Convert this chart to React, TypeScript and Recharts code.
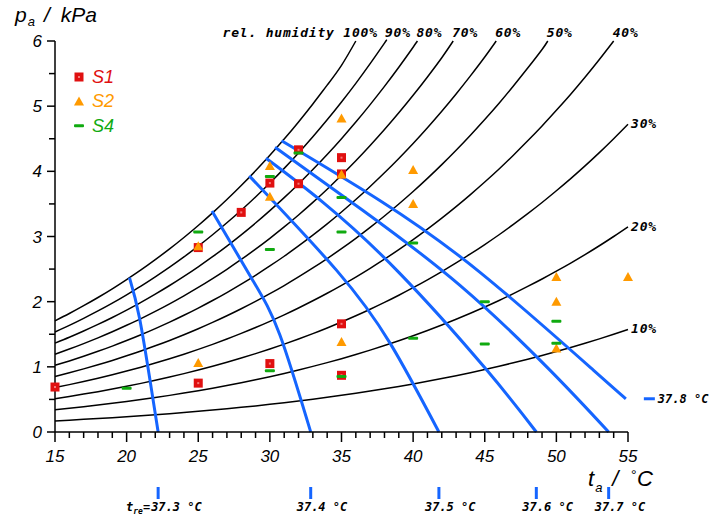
import React from 'react';
import { ComposedChart, Line, Scatter, XAxis, YAxis, Legend } from 'recharts';

const satT = [15, 16, 17, 18, 19, 20, 21, 22, 23, 24, 25, 26, 27, 28, 29, 30, 31, 32, 33, 34, 35,
  36, 37, 38, 39, 40, 41, 42, 43, 44, 45, 46, 47, 48, 49, 50, 51, 52, 53, 54, 55];
const satP = [1.705, 1.818, 1.938, 2.064, 2.197, 2.339, 2.487, 2.645, 2.81, 2.985, 3.169, 3.363, 3.567,
  3.782, 4.008, 4.246, 4.495, 4.758, 5.034, 5.323, 5.627, 5.945, 6.28, 6.63, 6.997, 7.381, 7.784, 8.205,
  8.646, 9.108, 9.59, 10.09, 10.62, 11.17, 11.74, 12.34, 12.96, 13.61, 14.29, 15.0, 15.74];

const rhLevels = [100, 90, 80, 70, 60, 50, 40, 30, 20, 10];
const rhEndT = [36.0, 38.1, 40.3, 42.8, 45.8, 49.4, 54.0, 55, 55, 55];

// rectal temperature isotherms
const isoTemps = ['37.3', '37.4', '37.5', '37.6', '37.7', '37.8'];
const isoT = [
  [20.2, 20.9, 21.7, 22.2],
  [25.96, 28.8, 30.7, 32.85],
  [28.56, 34.66, 38.4, 41.8],
  [29.73, 33.73, 39.0, 45.14, 48.6],
  [30.36, 36.5, 43.27, 49.55, 53.65],
  [30.82, 37.7, 44.67, 52.58, 54.85],
];
const isoP = [
  [2.37, 1.75, 0.7, 0],
  [3.39, 2.33, 1.49, 0],
  [3.93, 2.48, 1.36, 0],
  [4.2, 3.52, 2.45, 0.95, 0],
  [4.37, 3.4, 2.25, 0.95, 0],
  [4.47, 3.55, 2.45, 0.95, 0.51],
];

// measurements
const s1T = [15, 25, 25, 28, 30, 30, 32, 32, 35, 35, 35, 35];
const s1P = [0.69, 0.75, 2.83, 3.37, 1.05, 3.82, 3.81, 4.33, 0.87, 1.66, 3.96, 4.21];
const s2T = [25, 25, 30, 30, 35, 35, 35, 40, 40, 50, 50, 50, 55];
const s2P = [1.06, 2.85, 3.61, 4.08, 1.38, 3.95, 4.81, 3.5, 4.02, 1.28, 2.0, 2.38, 2.38];
const s4T = [20, 25, 30, 30, 30, 32, 35, 35, 35, 40, 40, 45, 45, 50, 50];
const s4P = [0.67, 3.07, 0.94, 2.8, 3.92, 4.28, 0.85, 3.07, 3.6, 1.44, 2.9, 1.35, 2.0, 1.36, 1.7];

const seriesNames = ['S1', 'S2', 'S4'];
const xLabelTicks = [15, 20, 25, 30, 35, 40, 45, 50, 55];
const yLabelTicks = [0, 1, 2, 3, 4, 5, 6];

const RED = '#e01010';
const ORANGE = '#ff9a00';
const GREEN = '#10aa10';
const BLUE = '#1565ff';
const SANS = '"Liberation Sans", Arial, sans-serif';
const MONO = '"DejaVu Sans Mono", monospace';

const rhCurves = rhLevels.map((rh, i) => {
  const pts = satT
    .map((t, k) => ({ t, p: (rh / 100) * satP[k] }))
    .filter((d) => d.t < rhEndT[i] && d.p <= 6);
  const endP = rhEndT[i] === 55 ? (rh / 100) * satP[satP.length - 1] : 6;
  pts.push({ t: rhEndT[i], p: endP });
  return pts;
});
const rhLabelPts = rhLevels.map((rh, i) => {
  const c = rhCurves[i];
  return { t: c[c.length - 1].t, p: c[c.length - 1].p, rh, top: rhEndT[i] < 55 };
});

const isoCurves = isoT.map((ts, i) => ts.map((t, k) => ({ t, p: isoP[i][k] })));
const treTickT = isoT.slice(0, 5).map((ts) => ts[ts.length - 1]);
const lastIso = isoCurves[isoCurves.length - 1];
const isoEndLabel = [{ ...lastIso[lastIso.length - 1], temp: isoTemps[isoTemps.length - 1] }];

const toPts = (ts: number[], ps: number[]) => ts.map((t, k) => ({ t, p: ps[k] }));
const s1 = toPts(s1T, s1P);
const s2 = toPts(s2T, s2P);
const s4 = toPts(s4T, s4P);

const minorX = Array.from({ length: 41 }, (_, i) => 15 + i);
const minorY = Array.from({ length: 13 }, (_, i) => i * 0.5);

const Square = ({ cx, cy }: any) => (
  <g>
    <rect x={cx - 4.5} y={cy - 4.5} width={9} height={9} fill={RED} />
    <rect x={cx - 1} y={cy - 1} width={2} height={2} fill="#f47a7a" />
  </g>
);
const Triangle = ({ cx, cy }: any) => (
  <path d={`M${cx - 5},${cy + 4} L${cx + 5},${cy + 4} L${cx},${cy - 5} Z`} fill={ORANGE} />
);
const Dash = ({ cx, cy }: any) => <rect x={cx - 5} y={cy - 1.5} width={10} height={3} rx={1} fill={GREEN} />;

const RhLabel = ({ cx, cy, payload }: any) => {
  const style = { fontFamily: MONO, fontSize: 13, fontStyle: 'italic', fontWeight: 700, letterSpacing: 0.8 } as any;
  if (!payload.top) {
    return <text x={cx + 3} y={cy + 4} style={style} fill="#000">{`${payload.rh}%`}</text>;
  }
  if (payload.rh === 100) {
    return <text x={cx + 22} y={cy - 4} textAnchor="end" style={style} fill="#000">rel. humidity 100%</text>;
  }
  return <text x={cx - 1} y={cy - 4} style={style} fill="#000">{`${payload.rh}%`}</text>;
};

const IsoEndLabel = ({ cx, cy, payload }: any) => (
  <g>
    <line x1={cx + 18} x2={cx + 29} y1={cy} y2={cy} stroke={BLUE} strokeWidth={3} />
    <text x={cx + 32} y={cy + 4} fill="#000" style={{ fontFamily: MONO, fontSize: 12, fontStyle: 'italic', fontWeight: 700 }}>
      {`${payload.temp} °C`}
    </text>
  </g>
);

const XTick = ({ x, y, payload }: any) => {
  const v = payload.value;
  const k = treTickT.indexOf(v);
  if (k >= 0) {
    const lbl = { fontFamily: MONO, fontSize: 12, fontStyle: 'italic', fontWeight: 700 } as any;
    return (
      <g>
        <line x1={x} x2={x} y1={y + 55} y2={y + 67} stroke={BLUE} strokeWidth={3} />
        {k === 0 && (
          <text x={x - 8} y={y + 79} textAnchor="end" fill="#000" style={lbl}>
            t<tspan dy={3} fontSize={8}>re</tspan><tspan dy={-3}>=</tspan>
          </text>
        )}
        <text x={k === 0 ? x - 7 : x - 14} y={y + 79} fill="#000" style={lbl}>{`${isoTemps[k]} °C`}</text>
      </g>
    );
  }
  const major = xLabelTicks.includes(v);
  return (
    <g>
      <line x1={x} x2={x} y1={y} y2={y + (major ? 10 : 6)} stroke="#000" strokeWidth={1.5} />
      {major && (
        <text x={x} y={y + 30} textAnchor="middle" fill="#000" style={{ fontFamily: SANS, fontSize: 17, fontStyle: 'italic' }}>
          {v}
        </text>
      )}
    </g>
  );
};

const YTick = ({ x, y, payload }: any) => {
  const v = payload.value;
  const major = yLabelTicks.includes(v);
  return (
    <g>
      <line x1={x - (major ? 8 : 6)} x2={x} y1={y} y2={y} stroke="#000" strokeWidth={1.5} />
      {major && (
        <text x={x - 13} y={y + 6} textAnchor="end" fill="#000" style={{ fontFamily: SANS, fontSize: 17, fontStyle: 'italic' }}>
          {v}
        </text>
      )}
    </g>
  );
};

const legendColors = [RED, ORANGE, GREEN];
const legendShapes = [Square, Triangle, Dash];
const LegendBox = () => (
  <svg width={60} height={75}>
    {seriesNames.map((n, i) => {
      const Shape = legendShapes[i];
      const cy = 12 + i * 24.4;
      return (
        <g key={n}>
          <Shape cx={7} cy={cy} />
          <text x={20} y={cy + 6} fill={legendColors[i]} style={{ fontFamily: SANS, fontSize: 18, fontStyle: 'italic' }}>
            {n}
          </text>
        </g>
      );
    })}
  </svg>
);

export default function App() {
  return (
    <div style={{ position: 'absolute', left: 0, top: 0, width: 709, height: 518, background: '#fff' }}>
      <ComposedChart width={709} height={518} margin={{ top: 41, right: 81, left: 0, bottom: 0 }}>
        <XAxis
          dataKey="t"
          type="number"
          domain={[15, 55]}
          ticks={[...minorX, ...treTickT]}
          interval={0}
          height={86}
          tickSize={0}
          tickMargin={0}
          tickLine={false}
          axisLine={{ stroke: '#000', strokeWidth: 1.5 }}
          tick={<XTick />}
        />
        <YAxis
          dataKey="p"
          type="number"
          domain={[0, 6]}
          ticks={minorY}
          interval={0}
          width={55}
          tickSize={0}
          tickMargin={0}
          tickLine={false}
          axisLine={{ stroke: '#000', strokeWidth: 1.5 }}
          tick={<YTick />}
        />
        <Legend
          layout="horizontal"
          align="center"
          verticalAlign="middle"
          wrapperStyle={{ left: 72, top: 65, width: 60, height: 75 }}
          content={<LegendBox />}
        />
        {rhCurves.map((c, i) => (
          <Line
            key={`rh${rhLevels[i]}`}
            data={c}
            dataKey="p"
            type="natural"
            stroke="#000"
            strokeWidth={1.5}
            dot={false}
            activeDot={false}
            legendType="none"
            isAnimationActive={false}
          />
        ))}
        <Scatter name="S1" data={s1} shape={<Square />} isAnimationActive={false} />
        <Scatter name="S2" data={s2} shape={<Triangle />} isAnimationActive={false} />
        <Scatter name="S4" data={s4} shape={<Dash />} isAnimationActive={false} />
        {isoCurves.map((c, i) => (
          <Line
            key={`iso${isoTemps[i]}`}
            data={c}
            dataKey="p"
            type="natural"
            stroke={BLUE}
            strokeWidth={3}
            dot={false}
            activeDot={false}
            legendType="none"
            isAnimationActive={false}
          />
        ))}
        <Scatter data={rhLabelPts} shape={<RhLabel />} legendType="none" isAnimationActive={false} />
        <Scatter data={isoEndLabel} shape={<IsoEndLabel />} legendType="none" isAnimationActive={false} />
      </ComposedChart>
      <div style={{ position: 'absolute', left: 15, top: 4, fontFamily: SANS, fontSize: 21, fontStyle: 'italic', lineHeight: '21px', whiteSpace: 'nowrap' }}>
        p<span style={{ fontSize: 13, verticalAlign: -4, marginLeft: 1 }}>a</span>
        <span style={{ marginLeft: 9 }}>/</span>
        <span style={{ marginLeft: 11 }}>kPa</span>
      </div>
      <div style={{ position: 'absolute', left: 588, top: 464, fontFamily: SANS, fontSize: 22, fontStyle: 'italic', lineHeight: '22px', whiteSpace: 'nowrap' }}>
        t<span style={{ fontSize: 13, verticalAlign: -6, marginLeft: 1 }}>a</span>
        <span style={{ marginLeft: 10 }}>/</span>
        <span style={{ marginLeft: 12, fontSize: 14, verticalAlign: 6 }}>°</span>
        <span style={{ marginLeft: 1 }}>C</span>
      </div>
    </div>
  );
}
